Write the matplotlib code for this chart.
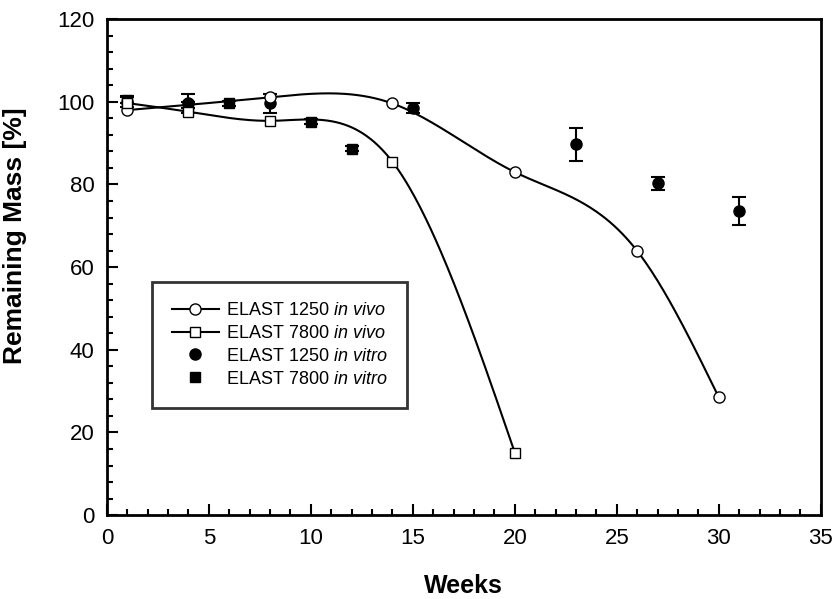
"""
Remaining mass of ELAST 1250 and ELAST 7800 over time, in vivo vs in vitro.
"""

import numpy as np
import matplotlib.pyplot as plt
from matplotlib.ticker import MultipleLocator

plt.rcParams['font.family'] = ['Liberation Sans', 'DejaVu Sans']
plt.rcParams['mathtext.fontset'] = 'custom'
plt.rcParams['mathtext.rm'] = 'Liberation Sans'
plt.rcParams['mathtext.it'] = 'Liberation Sans:italic'

# in vivo series (open markers, smoothed line)
weeks_1250_vivo = [1, 8, 14, 20, 26, 30]
mass_1250_vivo = [98.0, 101.1, 99.6, 83.0, 63.9, 28.5]

weeks_7800_vivo = [1, 4, 8, 14, 20]
mass_7800_vivo = [99.7, 97.6, 95.4, 85.5, 15.1]

# in vitro series (filled markers with error bars)
weeks_1250_vitro = [1, 4, 8, 15, 23, 27, 31]
mass_1250_vitro = [100.0, 99.6, 99.6, 98.4, 89.7, 80.3, 73.6]
err_1250_vitro = [1.3, 2.3, 2.2, 1.2, 3.9, 1.6, 3.3]

weeks_7800_vitro = [1, 4, 6, 10, 12]
mass_7800_vitro = [100.4, 99.2, 99.6, 95.2, 88.6]
err_7800_vitro = [0.8, 0.8, 0.6, 0.6, 0.6]


def natural_spline(x, y, n=300):
    """Natural cubic spline through (x, y), sampled on n points."""
    x = np.asarray(x, float)
    y = np.asarray(y, float)
    k = len(x)
    h = np.diff(x)
    A = np.zeros((k, k))
    b = np.zeros(k)
    A[0, 0] = A[-1, -1] = 1.0
    for i in range(1, k - 1):
        A[i, i - 1] = h[i - 1]
        A[i, i] = 2 * (h[i - 1] + h[i])
        A[i, i + 1] = h[i]
        b[i] = 6 * ((y[i + 1] - y[i]) / h[i] - (y[i] - y[i - 1]) / h[i - 1])
    m = np.linalg.solve(A, b)
    xs = np.linspace(x[0], x[-1], n)
    idx = np.clip(np.searchsorted(x, xs) - 1, 0, k - 2)
    x0, x1 = x[idx], x[idx + 1]
    y0, y1 = y[idx], y[idx + 1]
    m0, m1 = m[idx], m[idx + 1]
    hh = x1 - x0
    t0 = x1 - xs
    t1 = xs - x0
    ys = (m0 * t0 ** 3 + m1 * t1 ** 3) / (6 * hh) \
        + (y0 / hh - m0 * hh / 6) * t0 + (y1 / hh - m1 * hh / 6) * t1
    return xs, ys


fig = plt.figure(figsize=(8.35, 5.99), dpi=100)
ax = fig.add_axes([0.128, 0.140, 0.855, 0.828])

ms = 8
lw = 1.5

xs, ys = natural_spline(weeks_1250_vivo, mass_1250_vivo)
ax.plot(xs, ys, color='black', lw=lw, zorder=2)
xs, ys = natural_spline(weeks_7800_vivo, mass_7800_vivo)
ax.plot(xs, ys, color='black', lw=lw, zorder=2)

ax.errorbar(weeks_1250_vitro, mass_1250_vitro, yerr=err_1250_vitro, fmt='o',
            color='black', ms=ms, elinewidth=1.5, capsize=5, capthick=1.5, zorder=3)
ax.errorbar(weeks_7800_vitro, mass_7800_vitro, yerr=err_7800_vitro, fmt='s',
            color='black', ms=ms - 0.5, elinewidth=1.5, capsize=5, capthick=1.5, zorder=3)
ax.plot(weeks_1250_vivo, mass_1250_vivo, 'o', mfc='white', mec='black', mew=1, ms=ms, zorder=4)
ax.plot(weeks_7800_vivo, mass_7800_vivo, 's', mfc='white', mec='black', mew=1, ms=ms - 0.5, zorder=4)

# legend proxies
h1, = ax.plot([], [], '-o', color='black', mfc='white', mew=1, ms=ms, lw=lw,
              label='ELAST 1250 $\\it{in\\ vivo}$')
h2, = ax.plot([], [], '-s', color='black', mfc='white', mew=1, ms=ms - 0.5, lw=lw,
              label='ELAST 7800 $\\it{in\\ vivo}$')
h3, = ax.plot([], [], 'o', color='black', ms=ms, label='ELAST 1250 $\\it{in\\ vitro}$')
h4, = ax.plot([], [], 's', color='black', ms=ms - 0.5, label='ELAST 7800 $\\it{in\\ vitro}$')
leg = ax.legend(handles=[h1, h2, h3, h4], loc='upper left',
                bbox_to_anchor=(0.063, 0.470), frameon=True, fancybox=False,
                edgecolor='black', fontsize=13, handlelength=2.6,
                labelspacing=0.33, borderpad=1.1, handletextpad=0.4,
                borderaxespad=0)
leg.get_frame().set_linewidth(2)

ax.set_xlim(0, 35)
ax.set_ylim(0, 120)
ax.xaxis.set_major_locator(MultipleLocator(5))
ax.xaxis.set_minor_locator(MultipleLocator(1))
ax.yaxis.set_major_locator(MultipleLocator(20))
ax.yaxis.set_minor_locator(MultipleLocator(4))
ax.tick_params(which='both', direction='in', width=1.5, labelsize=16)
ax.tick_params(which='major', length=8, pad=9)
ax.tick_params(which='minor', length=4)
for s in ax.spines.values():
    s.set_linewidth(2)

ax.set_xlabel('Weeks', fontsize=18, fontweight='bold', labelpad=18)
ax.set_ylabel('Remaining Mass [%]', fontsize=19, fontweight='bold', labelpad=12)
ax.yaxis.set_label_coords(-0.112, 0.5625)

plt.savefig('out.png', dpi=100)
